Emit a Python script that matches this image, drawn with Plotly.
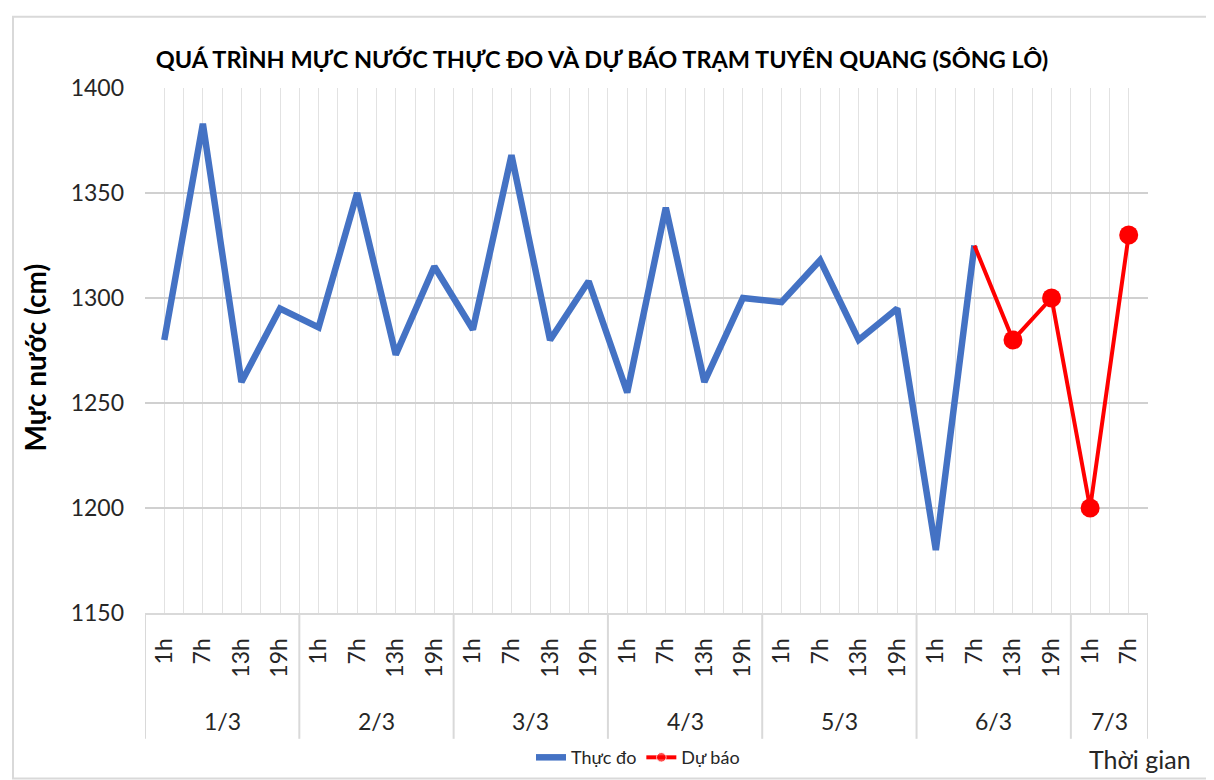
import plotly.graph_objects as go

dates = ["1/3"] * 4 + ["2/3"] * 4 + ["3/3"] * 4 + ["4/3"] * 4 + ["5/3"] * 4 + ["6/3"] * 4 + ["7/3"] * 2
hours = ["1h", "7h", "13h", "19h"] * 6 + ["1h", "7h"]
thuc_do = [1280, 1383, 1260, 1295, 1286, 1350, 1273, 1315, 1285, 1368, 1280, 1308,
           1255, 1343, 1260, 1300, 1298, 1318, 1280, 1295, 1180, 1325]
du_bao = [1325, 1280, 1300, 1200, 1330]
du_bao_start = len(thuc_do) - 1

y_ticks = [1150, 1200, 1250, 1300, 1350, 1400]

W, H = 1214, 780
ML, MR, MT, MB = 137, 74, 80, 170
PW, PH = W - ML - MR, H - MT - MB


def px(x):
    return (x - ML) / PW


def py(y):
    return (H - MB - y) / PH


FONT = "Lato"
TXT = "#262626"

n = len(hours)
idx = list(range(n))
x_obs = idx[:len(thuc_do)]
x_fc = idx[du_bao_start:du_bao_start + len(du_bao)]

# date groups (label, start index, end index)
groups = []
for i, d in enumerate(dates):
    if not groups or groups[-1][0] != d:
        groups.append([d, i, i])
    else:
        groups[-1][2] = i

fig = go.Figure()
fig.add_trace(go.Scatter(
    x=x_obs, y=thuc_do, mode="lines", name="Thực đo",
    line=dict(color="#4472C4", width=6.5),
))
fig.add_trace(go.Scatter(
    x=x_fc, y=du_bao, mode="lines+markers", name="Dự báo",
    line=dict(color="#FF0000", width=4),
    marker=dict(color="#FF0000", size=[0] + [12] * (len(du_bao) - 1)),
))
fig.add_trace(go.Scatter(
    x=x_fc[1:], y=du_bao[1:], mode="markers", showlegend=False,
    marker=dict(color="#FF0000", size=19),
))

fig.update_layout(
    width=W, height=H,
    margin=dict(l=ML, r=MR, t=MT, b=MB),
    paper_bgcolor="white", plot_bgcolor="white",
    font=dict(family=FONT, color=TXT),
    title=dict(text="<b>QUÁ TRÌNH MỰC NƯỚC THỰC ĐO VÀ DỰ BÁO TRẠM TUYÊN QUANG (SÔNG LÔ)</b>",
               font=dict(family=FONT, size=23.5, color="#000000"),
               x=594 / W, xanchor="center", y=1 - 52 / H, yanchor="middle"),
    xaxis=dict(
        range=[-0.5, n - 0.5], tickmode="array", tickvals=idx, ticktext=hours,
        tickangle=-90, tickfont=dict(family=FONT, size=23, color=TXT),
        showgrid=True, gridcolor="#e2e2e2", gridwidth=1,
        minor=dict(tickmode="array", tickvals=[i - 0.5 for i in range(n + 1)],
                   showgrid=True, gridcolor="#e2e2e2", gridwidth=1, ticks=""),
        showline=True, linecolor="#d9d9d9", linewidth=2,
        zeroline=False, ticks="", ticklabelstandoff=14,
    ),
    yaxis=dict(
        range=[1150, 1400], tickvals=y_ticks, showgrid=True, gridcolor="#d0d0d0", gridwidth=1.5,
        zeroline=False, ticks="", tickfont=dict(family=FONT, size=23, color=TXT),
        ticklabelstandoff=20,
    ),
    legend=dict(orientation="h", x=px(630), xanchor="center", y=py(756), yanchor="middle",
                font=dict(family=FONT, size=18, color=TXT)),
    showlegend=True,
)

# date group labels and dividers
for d, i0, i1 in groups:
    fig.add_annotation(text=d, xref="x", yref="paper", x=(i0 + i1) / 2, y=py(719),
                       showarrow=False, yanchor="middle",
                       font=dict(family=FONT, size=23, color=TXT))
bounds = [g[1] - 0.5 for g in groups] + [groups[-1][2] + 0.5]
for b in bounds:
    fig.add_shape(type="line", xref="x", yref="paper", x0=b, x1=b, y0=0, y1=py(737),
                  line=dict(color="#d9d9d9", width=2))

fig.add_annotation(text="<b>Mực nước (cm)</b>", xref="paper", yref="paper", x=px(27), y=py(352),
                   textangle=-90, showarrow=False, xanchor="center", yanchor="middle",
                   font=dict(family=FONT, size=28, color="#000000"))
fig.add_annotation(text="Thời gian", xref="paper", yref="paper", x=px(1132), y=py(757),
                   showarrow=False, xanchor="center", yanchor="middle",
                   font=dict(family=FONT, size=25, color=TXT))

fig.add_shape(type="rect", xref="paper", yref="paper",
              x0=px(5), x1=px(1209), y0=py(777), y1=py(8),
              line=dict(color="#d9d9d9", width=2), layer="below")

fig.write_html("out.html")
